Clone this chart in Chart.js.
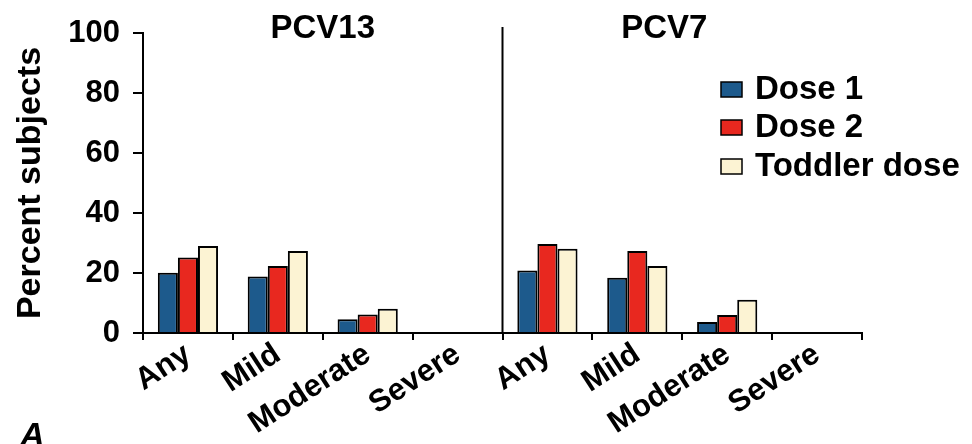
<!DOCTYPE html>
<html><head><meta charset="utf-8">
<script src="https://cdn.jsdelivr.net/npm/chart.js@4.4.1/dist/chart.umd.min.js"></script>
<style>html,body{margin:0;padding:0;background:#fff;}canvas{display:block;}</style>
</head><body>
<canvas id="c" width="972" height="444"></canvas>
<script>
// ---- data ----
const vaccines = ['PCV13', 'PCV7'];
const severities = ['Any', 'Mild', 'Moderate', 'Severe'];
const seriesNames = ['Dose 1', 'Dose 2', 'Toddler dose'];
const pcv13Dose1 = [20.1, 18.8, 4.6, 0];
const pcv13Dose2 = [25.2, 22.3, 6.2, 0];
const pcv13Toddler = [29.0, 27.3, 8.1, 0];
const pcv7Dose1 = [20.8, 18.4, 3.7, 0];
const pcv7Dose2 = [29.7, 27.3, 6.0, 0];
const pcv7Toddler = [28.1, 22.3, 11.1, 0];
const yMin = 0, yMax = 100, yStep = 20;
const panelLetter = 'A';

// ---- styles ----
const colors = ['#1d5a8c', '#e8281f', '#fcf3d3'];
const FONT = 'Liberation Sans';

const labels = vaccines.flatMap(() => severities);
const seriesData = [
  [...pcv13Dose1, ...pcv7Dose1],
  [...pcv13Dose2, ...pcv7Dose2],
  [...pcv13Toddler, ...pcv7Toddler]
];

const decorPlugin = {
  id: 'decor',
  afterDraw(chart) {
    const ctx = chart.ctx;
    const xs = chart.scales.x;
    const area = chart.chartArea;
    ctx.save();
    // separator between panels
    const sepX = (xs.getPixelForValue(3) + xs.getPixelForValue(4)) / 2;
    ctx.strokeStyle = '#000';
    ctx.lineWidth = 2;
    ctx.beginPath();
    ctx.moveTo(sepX, 27);
    ctx.lineTo(sepX, area.bottom);
    ctx.stroke();
    // panel titles
    ctx.fillStyle = '#000';
    ctx.font = 'bold 33px "' + FONT + '"';
    ctx.textAlign = 'center';
    ctx.textBaseline = 'alphabetic';
    ctx.fillText(vaccines[0], xs.getPixelForValue(1.5), 38);
    ctx.fillText(vaccines[1], xs.getPixelForValue(5.3), 38);
    // legend
    const lx = 721, ly = [89, 127, 166];
    ctx.textAlign = 'left';
    ctx.textBaseline = 'middle';
    ctx.font = 'bold 33px "' + FONT + '"';
    seriesNames.forEach((name, i) => {
      ctx.fillStyle = colors[i];
      ctx.fillRect(lx, ly[i] - 7, 21, 15);
      ctx.lineWidth = 1.5;
      ctx.strokeStyle = '#000';
      ctx.strokeRect(lx, ly[i] - 7, 21, 15);
      ctx.fillStyle = '#000';
      ctx.fillText(name, 755, ly[i] + 1);
    });
    // panel letter
    ctx.font = 'italic bold 34px "' + FONT + '"';
    ctx.textAlign = 'left';
    ctx.textBaseline = 'alphabetic';
    ctx.fillText(panelLetter, 20, 446);
    ctx.restore();
  }
};

new Chart(document.getElementById('c'), {
  type: 'bar',
  data: {
    labels: labels,
    datasets: seriesNames.map((name, i) => ({
      label: name,
      data: seriesData[i],
      backgroundColor: colors[i],
      borderColor: '#000',
      borderWidth: 2,
      categoryPercentage: 0.67,
      barPercentage: 1.0
    }))
  },
  options: {
    responsive: false,
    animation: false,
    layout: { padding: { top: 33, right: 110, left: 0, bottom: 0 } },
    plugins: { legend: { display: false }, tooltip: { enabled: false } },
    scales: {
      x: {
        offset: true,
        afterFit(s) { s.height = 111; },
        grid: { display: true, drawOnChartArea: false, offset: true, tickLength: 7, color: '#000', lineWidth: 2 },
        border: { display: true, color: '#000', width: 2 },
        ticks: {
          autoSkip: false, minRotation: 33, maxRotation: 33, padding: -4,
          color: '#000', font: { family: FONT, size: 31, weight: 'bold' }
        }
      },
      y: {
        min: yMin, max: yMax,
        afterFit(s) { s.width = 143; },
        grid: { display: true, drawOnChartArea: false, tickLength: 10, color: '#000', lineWidth: 2 },
        border: { display: true, color: '#000', width: 2 },
        ticks: { stepSize: yStep, padding: 13, color: '#000', font: { family: FONT, size: 31, weight: 'bold' } },
        title: {
          display: true, text: 'Percent subjects', color: '#000',
          font: { family: FONT, size: 34, weight: 'bold' }, padding: { top: 10, bottom: 0 }
        }
      }
    }
  },
  plugins: [decorPlugin]
});
</script>
</body></html>
